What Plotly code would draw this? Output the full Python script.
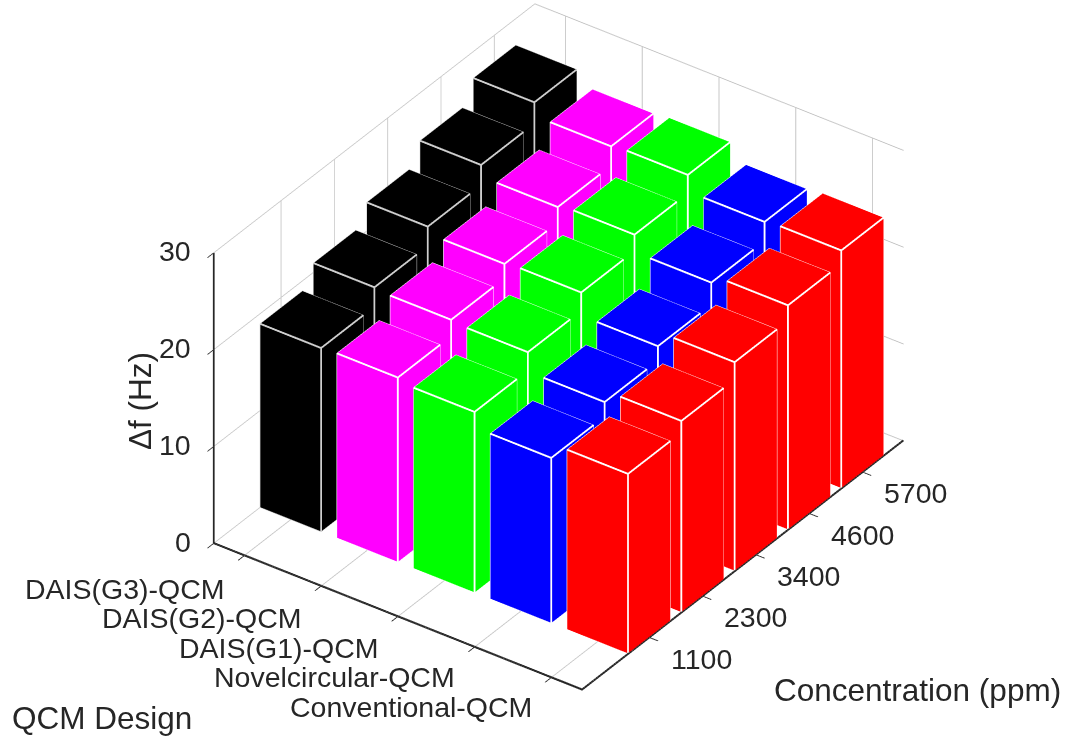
import plotly.graph_objects as go

# QCM designs (x axis) and gas concentrations (y axis)
designs = ["DAIS(G3)-QCM", "DAIS(G2)-QCM", "DAIS(G1)-QCM", "Novelcircular-QCM", "Conventional-QCM"]
concentrations = ["1100", "2300", "3400", "4600", "5700"]
z_ticks = [0, 10, 20, 30]

# Frequency shift Δf (Hz) per design, one value per concentration
dais_g3 = [19.0, 21.0, 23.0, 25.1, 27.3]
dais_g2 = [19.1, 20.8, 22.3, 23.9, 25.9]
dais_g1 = [18.7, 20.6, 22.5, 24.2, 26.1]
novel_circular = [17.1, 18.6, 20.1, 22.4, 24.4]
conventional = [18.6, 19.8, 21.6, 23.2, 24.6]

series = [dais_g3, dais_g2, dais_g1, novel_circular, conventional]
colors = ["#000000", "#ff00ff", "#00ff00", "#0000ff", "#ff0000"]
edge_colors = ["#cfcfcf", "#ffffff", "#ffffff", "#ffffff", "#ffffff"]

HALF = 0.4  # half bar width, in category units
X_RANGE = [0.6, 5.406]
Y_RANGE = [-0.27, 5.76]
Z_RANGE = [0, 30]
TEXT = "#262626"
FONT = "Liberation Sans, Arial, Helvetica, sans-serif"

# in-plane inset of the coloured faces (leaves a thin edge line visible)
MX, MY, MZ = 0.010, 0.012, 0.085
EPS_XY, EPS_Z = 0.003, 0.03

FLAT = dict(ambient=1, diffuse=0, specular=0, roughness=1, fresnel=0)
BOX_TRI = [(0, 1, 2), (0, 2, 3), (4, 5, 6), (4, 6, 7),
           (0, 1, 5), (0, 5, 4), (1, 2, 6), (1, 6, 5),
           (2, 3, 7), (2, 7, 6), (3, 0, 4), (3, 4, 7)]


class MeshBuf:
    def __init__(self):
        self.x, self.y, self.z, self.i, self.j, self.k = [], [], [], [], [], []

    def add(self, vx, vy, vz, tri):
        base = len(self.x)
        self.x += vx
        self.y += vy
        self.z += vz
        for a, b, c in tri:
            self.i.append(base + a)
            self.j.append(base + b)
            self.k.append(base + c)

    def add_box(self, x0, x1, y0, y1, z0, z1):
        self.add([x0, x1, x1, x0, x0, x1, x1, x0],
                 [y0, y0, y1, y1, y0, y0, y1, y1],
                 [z0, z0, z0, z0, z1, z1, z1, z1], BOX_TRI)

    def add_quad(self, pts):
        self.add([p[0] for p in pts], [p[1] for p in pts], [p[2] for p in pts],
                 [(0, 1, 2), (0, 2, 3)])

    def trace(self, color):
        return go.Mesh3d(x=self.x, y=self.y, z=self.z, i=self.i, j=self.j, k=self.k,
                         color=color, opacity=1, flatshading=True, lighting=FLAT,
                         hoverinfo="skip", showscale=False)


fig = go.Figure()
for di, (vals, col, ecol) in enumerate(zip(series, colors, edge_colors)):
    edge_mesh, face_mesh = MeshBuf(), MeshBuf()
    for ci, h in enumerate(vals):
        cx, cy = di + 1, ci + 1
        x0, x1 = cx - HALF, cx + HALF
        y0, y1 = cy - HALF, cy + HALF
        # full-size bar in the edge colour
        edge_mesh.add_box(x0, x1, y0, y1, 0, h)
        # coloured faces, slightly inset and lifted off the bar surface
        zt = h + EPS_Z
        face_mesh.add_quad([(x0 + MX, y0 + MY, zt), (x1 - MX, y0 + MY, zt),
                            (x1 - MX, y1 - MY, zt), (x0 + MX, y1 - MY, zt)])
        yf = y0 - EPS_XY
        face_mesh.add_quad([(x0 + MX, yf, MZ), (x1 - MX, yf, MZ),
                            (x1 - MX, yf, h - MZ), (x0 + MX, yf, h - MZ)])
        xr = x1 + EPS_XY
        face_mesh.add_quad([(xr, y0 + MY, MZ), (xr, y1 - MY, MZ),
                            (xr, y1 - MY, h - MZ), (xr, y0 + MY, h - MZ)])
    fig.add_trace(edge_mesh.trace(ecol))
    fig.add_trace(face_mesh.trace(col))

# Thicken the front axis lines with slim prisms lying inside the axis box
ax0, ax1 = X_RANGE
ay0, ay1 = Y_RANGE
axis_mesh = MeshBuf()
axis_mesh.add_box(ax0, ax1, ay0, ay0 + 0.012, 0, 0.1)
axis_mesh.add_box(ax1 - 0.01, ax1, ay0, ay1, 0, 0.1)
axis_mesh.add_box(ax0, ax0 + 0.01, ay0, ay0 + 0.01, Z_RANGE[0], Z_RANGE[1])
fig.add_trace(axis_mesh.trace(TEXT))

axis_common = dict(
    showbackground=False, showgrid=True, gridcolor="#c6c6c6", gridwidth=2,
    zeroline=False, showline=True, linecolor=TEXT, linewidth=2,
    ticks="outside", ticklen=10, tickwidth=2, tickcolor=TEXT,
    showticklabels=False, title=dict(text=""), showspikes=False,
)

ann = []
tick_font = dict(family=FONT, size=28.5, color=TEXT)
for i, name in enumerate(designs):
    ann.append(dict(x=i + 1, y=ay0, z=0, text=name, showarrow=False,
                    xanchor="right", yanchor="middle", xshift=-17, yshift=-33 + i,
                    font=tick_font))
for j, name in enumerate(concentrations):
    ann.append(dict(x=ax1, y=j + 1, z=0, text=name, showarrow=False,
                    xanchor="left", yanchor="middle", xshift=19, yshift=-21,
                    font=tick_font))
for v in z_ticks:
    ann.append(dict(x=ax0, y=ay0, z=v, text=str(v), showarrow=False,
                    xanchor="right", yanchor="middle", xshift=-20, yshift=2,
                    font=tick_font))

zoom = 1.307
dist = 1.6
eye_dir = (0.4842, -0.6763, 0.5551)
title_font = dict(family=FONT, size=31.5, color=TEXT)

fig.update_layout(
    width=1073, height=740,
    margin=dict(l=0, r=0, t=0, b=0),
    paper_bgcolor="white",
    showlegend=False,
    hovermode=False,
    scene=dict(
        domain=dict(x=[0.041, 1.0], y=[0.062, 1.0]),
        xaxis=dict(range=X_RANGE, tickvals=[1, 2, 3, 4, 5], **axis_common),
        yaxis=dict(range=Y_RANGE, tickvals=[1, 2, 3, 4, 5], **axis_common),
        zaxis=dict(range=Z_RANGE, tickvals=z_ticks, **axis_common),
        aspectmode="manual",
        aspectratio=dict(x=1.0 * zoom, y=1.2177 * zoom, z=0.77 * zoom),
        camera=dict(
            projection=dict(type="orthographic"),
            eye=dict(x=eye_dir[0] * dist, y=eye_dir[1] * dist, z=eye_dir[2] * dist),
            up=dict(x=0, y=0, z=1),
            center=dict(x=0, y=0, z=0),
        ),
        annotations=ann,
    ),
    annotations=[
        dict(text="Δf (Hz)", x=140 / 1073, y=1 - 401 / 740, xref="paper", yref="paper",
             showarrow=False, textangle=-90, xanchor="center", yanchor="middle",
             font=title_font),
        dict(text="QCM Design", x=10 / 1073, y=1 - 718 / 740, xref="paper", yref="paper",
             showarrow=False, xanchor="left", yanchor="middle", font=title_font),
        dict(text="Concentration (ppm)", x=1063 / 1073, y=1 - 690 / 740, xref="paper", yref="paper",
             showarrow=False, xanchor="right", yanchor="middle", font=title_font),
    ],
)

fig.write_html("out.html")
